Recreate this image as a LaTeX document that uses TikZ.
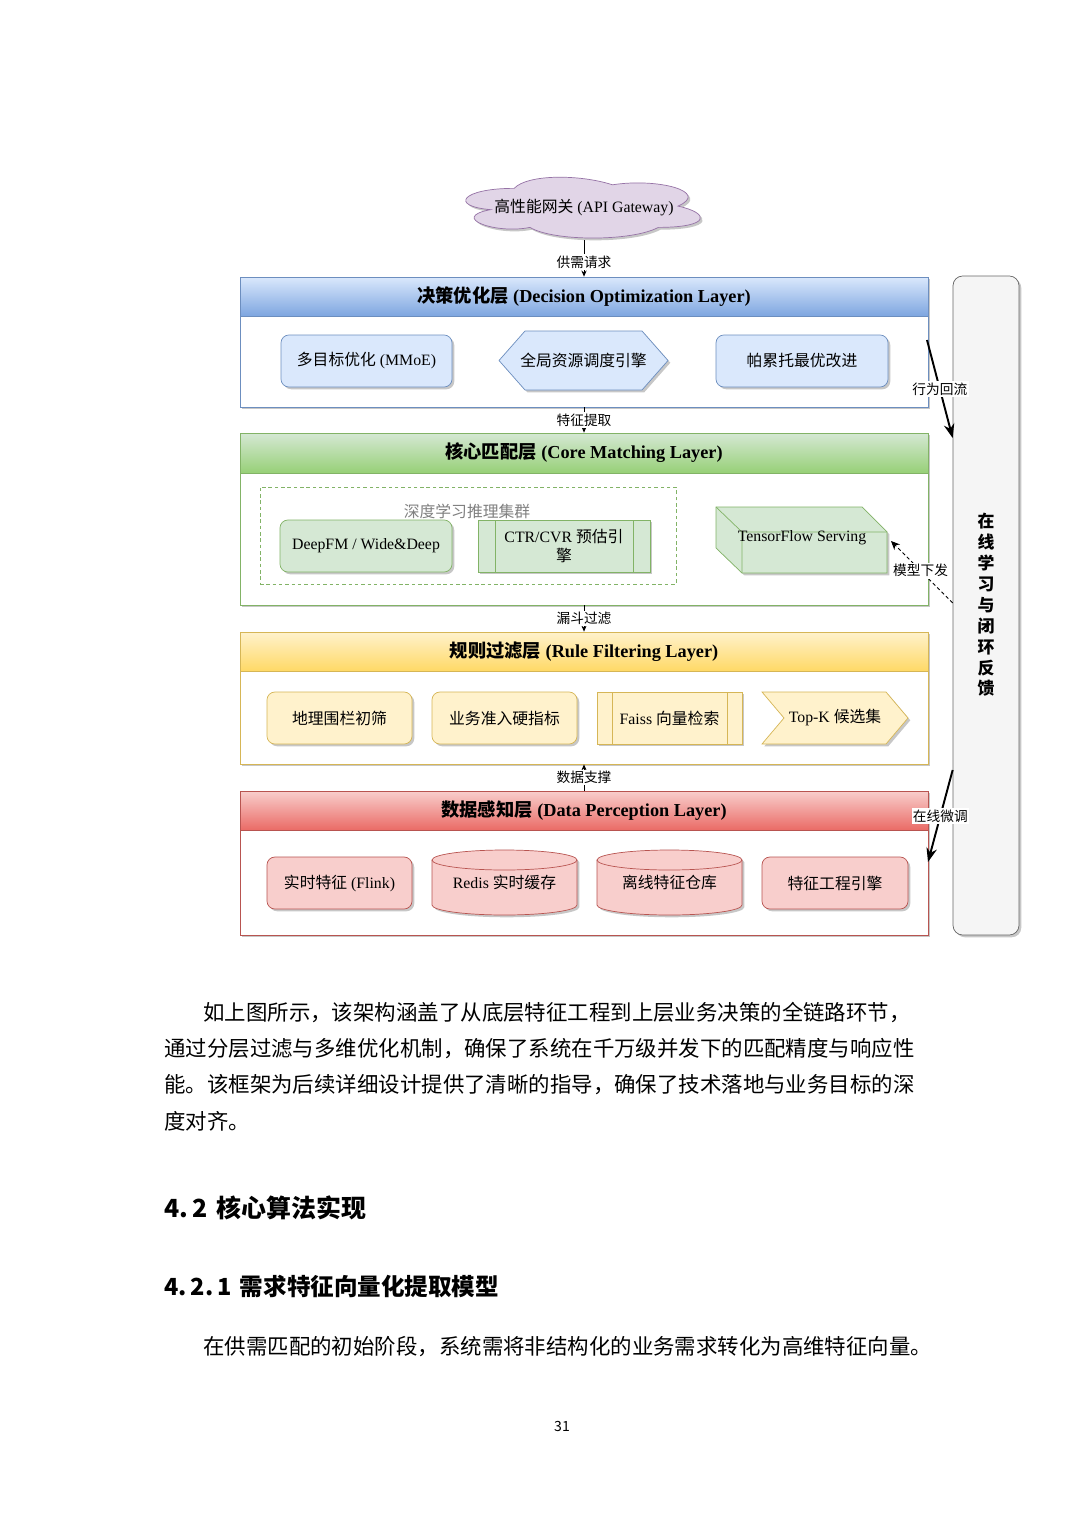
\documentclass[tikz,border=0pt]{standalone}
\usepackage{fontspec}
\setmainfont{Liberation Serif}
\newfontfamily\cjk{Noto Sans CJK SC}
\usetikzlibrary{shadows,arrows.meta}
\definecolor{bluef}{HTML}{DAE8FC}\definecolor{blued}{HTML}{6C8EBF}\definecolor{blueg}{HTML}{7EA6E0}
\definecolor{greenf}{HTML}{D5E8D4}\definecolor{greend}{HTML}{82B366}\definecolor{greeng}{HTML}{97D077}
\definecolor{yelf}{HTML}{FFF2CC}\definecolor{yeld}{HTML}{D6B656}\definecolor{yelg}{HTML}{FFD966}
\definecolor{redf}{HTML}{F8CECC}\definecolor{redd}{HTML}{B85450}\definecolor{redg}{HTML}{EA6B66}
\definecolor{purf}{HTML}{E1D5E7}\definecolor{purd}{HTML}{9673A6}
\definecolor{barf}{HTML}{F5F5F5}\definecolor{bard}{HTML}{666666}
\newcommand{\zh}[1]{{\cjk #1}}
\newcommand{\ndfont}{\fontsize{9}{11.3}\selectfont}
\newcommand{\ttlfont}{\fontsize{10.4}{12.5}\selectfont\bfseries}
\newcommand{\lblfont}{\fontsize{7.8}{9}\selectfont}
\newcommand{\parfont}{\cjk\fontsize{12.2}{14}\selectfont}
\tikzset{
  sz/.style 2 args={minimum width=#1*0.02cm, minimum height=#2*0.02cm, inner sep=0pt},
  shd/.style={drop shadow={shadow xshift=1.3pt,shadow yshift=-1.3pt,opacity=0.22,fill=black}},
  rbox/.style 2 args={draw=#1, fill=#2, rounded corners=4.5pt, shd, font=\ndfont, align=center},
  hd/.style n args={3}{draw=#1, top color=#2, bottom color=#3, font=\ttlfont},
  lbody/.style={draw=#1, fill=white, shd},
  flow/.style={line width=0.5pt, -{Stealth[length=3.5pt,width=3pt]}},
  fbarrow/.style={line width=1.1pt, -{Stealth[length=8pt,width=6pt]}},
  lbl/.style={fill=white, inner sep=0.8pt, font=\lblfont},
  ptext/.style={anchor=west, inner sep=0pt, font=\parfont}
}
\begin{document}
\begin{tikzpicture}[x=0.02cm,y=-0.02cm]
\useasboundingbox[fill=white] (0,0) rectangle (1080,1528);

% feedback bar
\node[draw=bard, fill=barf, rounded corners=5.5pt, shd, sz={66}{659}] (fb) at (986,605.5) {};
\node[font=\cjk\fontsize{9.6}{11.9}\selectfont\bfseries, align=center] (fbt) at (986,605) {在\\线\\学\\习\\与\\闭\\环\\反\\馈};

% gateway cloud
\begin{scope}[shift={(448.7,170.6)}, x=5.24cm, y=-1.42cm]
\draw[draw=purd, fill=purf, shd] (0.25,0.25) .. controls (0.05,0.25) and (0,0.5) .. (0.16,0.55)
  .. controls (0,0.66) and (0.18,0.9) .. (0.31,0.8)
  .. controls (0.4,1) and (0.7,1) .. (0.8,0.8)
  .. controls (1,0.8) and (1,0.6) .. (0.875,0.5)
  .. controls (1,0.3) and (0.8,0.1) .. (0.625,0.2)
  .. controls (0.5,0.05) and (0.3,0.05) .. (0.25,0.25) -- cycle;
\end{scope}
\node[font=\ndfont, inner sep=0pt] (gw) at (584,208) {\zh{高性能网关} (API Gateway)};
\coordinate (gwb) at (584,240);

% layers
\node[lbody=blued, sz={688}{130}] (L1) at (584,342) {};
\node[hd={blued}{bluef}{blueg}, sz={688}{39}] (L1h) at (584,296.5) {\zh{决策优化层} (Decision Optimization Layer)};
\node[lbody=greend, sz={688}{172}] (L2) at (584,519) {};
\node[hd={greend}{greenf}{greeng}, sz={688}{40}] (L2h) at (584,453) {\zh{核心匹配层} (Core Matching Layer)};
\node[lbody=yeld, sz={688}{132}] (L3) at (584,698) {};
\node[hd={yeld}{yelf}{yelg}, sz={688}{39}] (L3h) at (584,651.5) {\zh{规则过滤层} (Rule Filtering Layer)};
\node[lbody=redd, sz={688}{144}] (L4) at (584,863) {};
\node[hd={redd}{redf}{redg}, sz={688}{39}] (L4h) at (584,810.5) {\zh{数据感知层} (Data Perception Layer)};

% vertical flow arrows
\draw[flow] (L1h.north |- gwb) -- node[lbl, pos=0.6]{\zh{供需请求}} (L1h.north);
\draw[flow] (L1.south) -- node[lbl]{\zh{特征提取}} (L2h.north);
\draw[flow] (L2.south) -- node[lbl]{\zh{漏斗过滤}} (L3h.north);
\draw[flow] (L4h.north) -- node[lbl]{\zh{数据支撑}} (L3.south);

% decision layer nodes
\node[rbox={blued}{bluef}, sz={171}{52}] (n11) at (366.5,361) {\zh{多目标优化} (MMoE)};
\draw[draw=blued, fill=bluef, shd] (499,360.5) -- (525,331) -- (642,331) -- (668,360.5) -- (642,390) -- (525,390) -- cycle;
\node[font=\ndfont] (n12) at (583.5,360.5) {\zh{全局资源调度引擎}};
\node[rbox={blued}{bluef}, sz={172}{52}] (n13) at (802,361) {\zh{帕累托最优改进}};

% core matching layer nodes
\node[draw=greend, dash pattern=on 2pt off 1.6pt, sz={416}{97}] (grp) at (468,535.5) {};
\node[font=\ndfont, text=black!50] (grpl) at (467,511) {\zh{深度学习推理集群}};
\node[rbox={greend}{greenf}, sz={172}{52}] (n21) at (366,546) {DeepFM / Wide\&Deep};
\node[draw=greend, fill=greenf, shd, sz={172}{52}, font=\ndfont, align=center] (n22) at (564,546) {CTR/CVR \zh{预估引}\\\zh{擎}};
\draw[greend] (495,520) -- (495,572) (633,520) -- (633,572);
\draw[draw=greend, fill=greenf, shd] (716,507) -- (862,507) -- (887,532) -- (887,573) -- (742,573) -- (716,548) -- cycle;
\draw[greend] (716,507) -- (742,532) -- (887,532) (742,532) -- (742,573);
\node[font=\ndfont] (tfs) at (802,538) {TensorFlow Serving};
\coordinate (tfsr) at (891,541);

% rule filtering layer nodes
\node[rbox={yeld}{yelf}, sz={145}{52}] (n31) at (339.5,718) {\zh{地理围栏初筛}};
\node[rbox={yeld}{yelf}, sz={145}{52}] (n32) at (504.5,718) {\zh{业务准入硬指标}};
\node[draw=yeld, fill=yelf, shd, sz={145}{52}, font=\ndfont] (n33) at (669.5,718) {Faiss \zh{向量检索}};
\draw[yeld] (612,692) -- (612,744) (727,692) -- (727,744);
\draw[draw=yeld, fill=yelf, shd] (762,692) -- (886,692) -- (908,718) -- (886,744) -- (762,744) -- (784,718) -- cycle;
\node[font=\ndfont] (n34) at (835,718) {Top-K \zh{候选集}};

% data perception layer nodes
\node[rbox={redd}{redf}, sz={145}{52}] (n41) at (339.5,883) {\zh{实时特征} (Flink)};
\draw[draw=redd, fill=redf, shd] (432,860) -- (432,905) arc[start angle=180,end angle=360,x radius=1.45cm,y radius=0.2cm] -- (577,860) arc[start angle=0,end angle=180,x radius=1.45cm,y radius=0.2cm] -- cycle;
\draw[redd] (432,860) arc[start angle=180,end angle=360,x radius=1.45cm,y radius=0.2cm];
\node[font=\ndfont] (n42) at (504.5,882) {Redis \zh{实时缓存}};
\draw[draw=redd, fill=redf, shd] (597,860) -- (597,905) arc[start angle=180,end angle=360,x radius=1.45cm,y radius=0.2cm] -- (742,860) arc[start angle=0,end angle=180,x radius=1.45cm,y radius=0.2cm] -- cycle;
\draw[redd] (597,860) arc[start angle=180,end angle=360,x radius=1.45cm,y radius=0.2cm];
\node[font=\ndfont] (n43) at (669.5,882) {\zh{离线特征仓库}};
\node[rbox={redd}{redf}, sz={146}{52}] (n44) at (835,883) {\zh{特征工程引擎}};

% feedback loop arrows
\coordinate (b1s) at (927,340);
\coordinate (b1e) at (fb.west |- 0,438);
\draw[fbarrow] (b1s) -- node[lbl]{\zh{行为回流}} (b1e);
\coordinate (b2s) at (fb.west |- 0,603);
\draw[line width=0.5pt, dash pattern=on 2pt off 1.5pt, -{Stealth[length=5pt,width=4.5pt]}] (b2s) -- node[lbl, pos=0.52]{\zh{模型下发}} (tfsr);
\coordinate (b3s) at (fb.west |- 0,770);
\coordinate (b3e) at (928,862);
\draw[fbarrow] (b3s) -- node[lbl, pos=0.5]{\zh{在线微调}} (b3e);

% body text
\node[ptext] (p1) at (203,1013) {如上图所示，该架构涵盖了从底层特征工程到上层业务决策的全链路环节，};
\node[ptext] (p2) at (164,1049) {通过分层过滤与多维优化机制，确保了系统在千万级并发下的匹配精度与响应性};
\node[ptext] (p3) at (164,1085) {能。该框架为后续详细设计提供了清晰的指导，确保了技术落地与业务目标的深};
\node[ptext] (p4) at (164,1121) {度对齐。};
\node[anchor=west, inner sep=0pt, font=\cjk\fontsize{14.2}{16}\selectfont\bfseries] (h1) at (164,1208) {4.\,2\hspace{0.35em}核心算法实现};
\node[anchor=west, inner sep=0pt, font=\cjk\fontsize{13.4}{15}\selectfont\bfseries] (h2) at (164,1286) {4.\,2.\,1\hspace{0.35em}需求特征向量化提取模型};
\node[ptext] (p5) at (203,1347) {在供需匹配的初始阶段，系统需将非结构化的业务需求转化为高维特征向量。};
\node[font=\cjk\fontsize{8}{9}\selectfont] (pg) at (562,1426) {31};
\end{tikzpicture}
\end{document}
